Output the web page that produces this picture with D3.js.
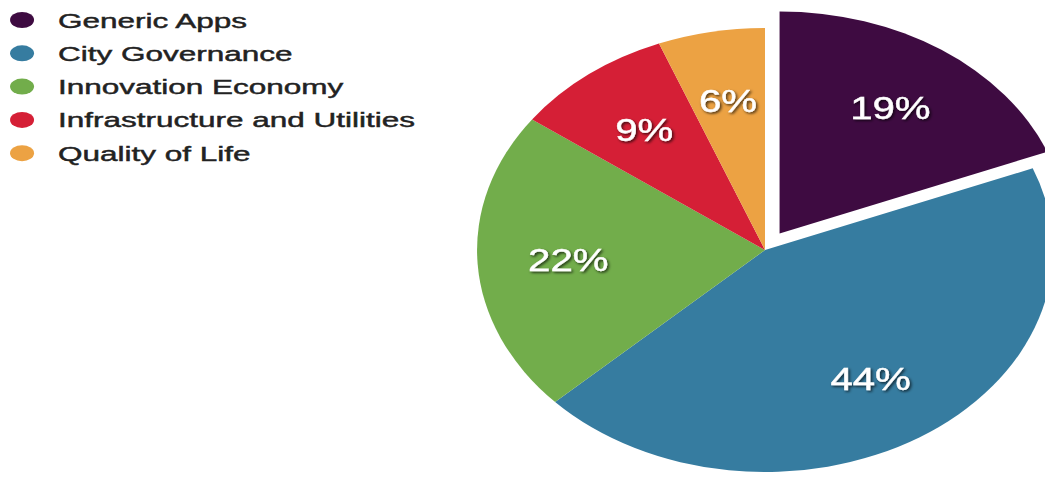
<!DOCTYPE html>
<html>
<head>
<meta charset="utf-8">
<script src="https://cdn.jsdelivr.net/npm/d3@7"></script>
<style>
  body { margin: 0; background: #fff; }
  svg { display: block; }
</style>
</head>
<body>
<div id="chart"></div>
<script>
var width = 1045;
var height = 478;

// data
var categories = ["Generic Apps", "City Governance", "Innovation Economy", "Infrastructure and Utilities", "Quality of Life"];
var values = [19, 44, 22, 9, 6];
var palette = ["#3e0b41", "#367ca0", "#72ad4b", "#d51f36", "#eca243"];

var color = d3.scaleOrdinal().domain(categories).range(palette);

var rows = categories.map(function(c, i) { return {name: c, value: values[i]}; });

var svg = d3.select("#chart")
    .append("svg")
    .attr("width", width)
    .attr("height", height)
    .attr("font-family", "'Liberation Sans', Arial, Helvetica, sans-serif");

var defs = svg.append("defs");
defs.append("filter")
    .attr("id", "shadow")
    .attr("x", "-20%").attr("y", "-20%")
    .attr("width", "140%").attr("height", "140%")
  .append("feDropShadow")
    .attr("dx", 1.2).attr("dy", 1.5)
    .attr("stdDeviation", 1.2)
    .attr("flood-color", "#000")
    .attr("flood-opacity", 0.7);

// the picture is stretched sideways, so is the pie
var radius = 222;
var explode = 20;

var pie = d3.pie()
    .sort(null)
    .value(function(d) { return d.value; });

var arc = d3.arc()
    .innerRadius(0)
    .outerRadius(radius);

var labelArc = d3.arc()
    .innerRadius(152)
    .outerRadius(152);

var g = svg.append("g")
    .attr("transform", "translate(765,250) scale(1.297,1)");

var slices = g.selectAll(".slice")
  .data(pie(rows))
  .enter().append("g")
    .attr("class", "slice")
    .attr("transform", function(d, i) {
      if (i !== 0) return null;
      var a = (d.startAngle + d.endAngle) / 2;
      return "translate(" + (Math.sin(a) * explode) + "," + (-Math.cos(a) * explode) + ")";
    });

slices.append("path")
    .attr("d", arc)
    .style("fill", function(d) { return color(d.data.name); });

slices.append("text")
    .attr("transform", function(d) { return "translate(" + labelArc.centroid(d) + ")"; })
    .attr("text-anchor", "middle")
    .attr("dy", "0.36em")
    .attr("font-size", 31)
    .attr("fill", "#fff")
    .attr("stroke", "#fff")
    .attr("stroke-width", 0.4)
    .attr("filter", "url(#shadow)")
    .text(function(d) { return d.data.value + "%"; });

// legend
var legend = svg.append("g")
    .attr("transform", "translate(0,20) scale(1.5,1)");

var item = legend.selectAll(".item")
  .data(categories)
  .enter().append("g")
    .attr("class", "item")
    .attr("transform", function(d, i) { return "translate(0," + (i * 33.3) + ")"; });

item.append("circle")
    .attr("cx", 14.7)
    .attr("cy", 0)
    .attr("r", 8)
    .style("fill", function(d) { return color(d); });

item.append("text")
    .attr("x", 38.7)
    .attr("y", 0)
    .attr("dy", "0.36em")
    .attr("font-size", 21)
    .attr("fill", "#222")
    .attr("stroke", "#222")
    .attr("stroke-width", 0.45)
    .text(function(d) { return d; });
</script>
</body>
</html>
